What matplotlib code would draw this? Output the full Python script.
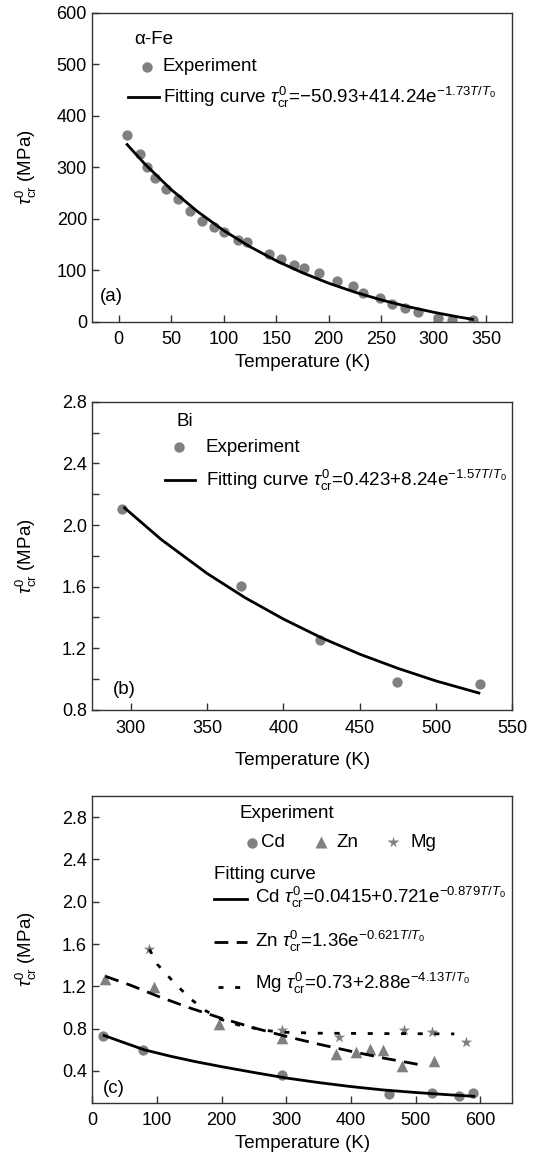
import numpy as np
import matplotlib
matplotlib.use('Agg')
import matplotlib.pyplot as plt
from matplotlib.ticker import MultipleLocator, FormatStrFormatter

plt.rcParams['font.family'] = ['Liberation Sans', 'DejaVu Sans']
plt.rcParams['mathtext.fontset'] = 'custom'
plt.rcParams['mathtext.rm'] = 'Liberation Sans'
plt.rcParams['mathtext.it'] = 'Liberation Sans:italic'
plt.rcParams['mathtext.bf'] = 'Liberation Sans:bold'
plt.rcParams['font.size'] = 13.5

# (a) alpha-Fe
fe_T = [8, 20, 27, 35, 45, 56, 68, 79, 91, 100, 114, 122, 143, 155, 167, 176, 191,
        208, 223, 233, 249, 260, 273, 285, 304, 317, 337]
fe_tau = [362, 326, 300, 280, 257, 238, 214, 196, 183, 174, 159, 154, 131, 122, 110, 105, 95,
          79, 70, 55, 46, 35, 26, 18, 8, 4, 3]
fe_fit_T = [8, 25, 50, 75, 100, 125, 150, 175, 200, 225, 250, 275, 300, 320, 337]
fe_fit_tau = [344, 306, 256.5, 214, 177, 145.6, 118.4, 95, 74.7, 57.3, 42.3, 29.4, 18.3, 10.5, 4.5]

# (b) Bi
bi_T = [294, 372, 424, 474.5, 528.5]
bi_tau = [2.105, 1.605, 1.255, 0.98, 0.966]
bi_fit_T = [296, 320, 350, 375, 400, 425, 450, 475, 500, 528]
bi_fit_tau = [2.111, 1.906, 1.686, 1.528, 1.390, 1.268, 1.162, 1.070, 0.988, 0.910]

# (c) Cd, Zn, Mg
cd_T = [16.5, 78, 294, 459, 525, 567, 589]
cd_tau = [0.73, 0.595, 0.365, 0.183, 0.193, 0.161, 0.19]
zn_T = [20, 95, 196, 293, 377, 408, 429, 449, 479.5, 529]
zn_tau = [1.267, 1.198, 0.843, 0.708, 0.557, 0.576, 0.61, 0.595, 0.45, 0.497]
mg_T = [87, 293.5, 381, 482, 526, 577.5]
mg_tau = [1.553, 0.79, 0.717, 0.79, 0.771, 0.673]

cd_fit_T = [18, 50, 80, 120, 160, 200, 250, 300, 350, 400, 450, 500, 550, 590]
cd_fit_tau = [0.735, 0.665, 0.600, 0.54, 0.487, 0.440, 0.385, 0.333, 0.29, 0.252, 0.220, 0.196, 0.175, 0.160]
zn_fit_T = [20, 60, 100, 150, 200, 250, 300, 350, 400, 450, 510]
zn_fit_tau = [1.295, 1.208, 1.109, 0.997, 0.897, 0.807, 0.726, 0.653, 0.586, 0.522, 0.455]
mg_fit_T = [88, 100, 125, 150, 175, 200, 225, 250, 275, 300, 350, 400, 450, 500, 560]
mg_fit_tau = [1.55, 1.41, 1.245, 1.09, 0.97, 0.885, 0.836, 0.805, 0.778, 0.765, 0.757, 0.755, 0.753, 0.752, 0.75]

GRAY = '#808080'
ylab = r'$\tau^{0}_{\rm cr}$ (MPa)'
ZN_DASH = (0, (5, 3))
MG_DOT = (0, (1.8, 4.2))

fig = plt.figure(figsize=(5.39, 11.58), dpi=100)
ax_a = fig.add_axes([0.1716, 0.7222, 0.7792, 0.2668])
ax_b = fig.add_axes([0.1716, 0.3869, 0.7792, 0.2662])
ax_c = fig.add_axes([0.1716, 0.0478, 0.7792, 0.2648])

for ax in (ax_a, ax_b, ax_c):
    for s in ax.spines.values():
        s.set_color('#333333')
        s.set_linewidth(1.0)
    ax.tick_params(which='both', direction='in', length=5, width=1, color='#333333',
                   top=False, right=False, labelsize=13)
    ax.tick_params(axis='x', pad=7)
    ax.tick_params(axis='y', pad=4)
    ax.set_ylabel(ylab, fontsize=13.5)
    ax.yaxis.set_label_coords(-0.128, 0.5)

# ---- (a) ----
ax = ax_a
ax.scatter(fe_T, fe_tau, s=55, color=GRAY, zorder=2, linewidths=0)
ax.plot(fe_fit_T, fe_fit_tau, color='black', lw=2, zorder=3)
ax.set_xlim(-25, 375)
ax.set_ylim(0, 600)
ax.set_xticks(range(0, 351, 50))
ax.set_yticks(range(0, 601, 100))
ax.set_xlabel('Temperature (K)', labelpad=4)
ax.text(0.100, 0.914, 'α-Fe', transform=ax.transAxes, va='center')
ax.plot([0.13], [0.825], 'o', ms=7.5, color=GRAY, mec='none', transform=ax.transAxes)
ax.text(0.166, 0.825, 'Experiment', transform=ax.transAxes, va='center')
ax.plot([0.084, 0.158], [0.727, 0.727], color='black', lw=2, transform=ax.transAxes)
ax.text(0.168, 0.727, r'Fitting curve $\tau^{0}_{\rm cr}$=−50.93+414.24e$^{-1.73T/T_0}$',
        transform=ax.transAxes, va='center')
ax.text(0.018, 0.081, '(a)', transform=ax.transAxes, va='center')

# ---- (b) ----
ax = ax_b
ax.scatter(bi_T, bi_tau, s=55, color=GRAY, zorder=2, linewidths=0)
ax.plot(bi_fit_T, bi_fit_tau, color='black', lw=2, zorder=3)
ax.set_xlim(275, 550)
ax.set_ylim(0.8, 2.8)
ax.set_xticks(range(300, 551, 50))
ax.yaxis.set_major_locator(MultipleLocator(0.4))
ax.yaxis.set_minor_locator(MultipleLocator(0.2))
ax.yaxis.set_major_formatter(FormatStrFormatter('%.1f'))
ax.set_xlabel('Temperature (K)', labelpad=11)
ax.text(0.199, 0.935, 'Bi', transform=ax.transAxes, va='center')
ax.plot([0.207], [0.852], 'o', ms=7.5, color=GRAY, mec='none', transform=ax.transAxes)
ax.text(0.268, 0.852, 'Experiment', transform=ax.transAxes, va='center')
ax.plot([0.173, 0.245], [0.746, 0.746], color='black', lw=2, transform=ax.transAxes)
ax.text(0.270, 0.746, r'Fitting curve $\tau^{0}_{\rm cr}$=0.423+8.24e$^{-1.57T/T_0}$',
        transform=ax.transAxes, va='center')
ax.text(0.049, 0.065, '(b)', transform=ax.transAxes, va='center')

# ---- (c) ----
ax = ax_c
ax.scatter(cd_T, cd_tau, s=55, marker='o', color=GRAY, zorder=2, linewidths=0)
ax.scatter(zn_T, zn_tau, s=70, marker='^', color=GRAY, zorder=2, linewidths=0)
ax.scatter(mg_T, mg_tau, s=75, marker='*', color=GRAY, zorder=2, linewidths=0)
ax.plot(cd_fit_T, cd_fit_tau, color='black', lw=2, zorder=3)
ax.plot(zn_fit_T, zn_fit_tau, color='black', lw=2, ls=ZN_DASH, zorder=3)
ax.plot(mg_fit_T, mg_fit_tau, color='black', lw=2, ls=MG_DOT, zorder=3)
ax.set_xlim(0, 650)
ax.set_ylim(0.1, 3.0)
ax.set_xticks(range(0, 601, 100))
ax.set_yticks(np.arange(0.4, 2.81, 0.4))
ax.yaxis.set_major_formatter(FormatStrFormatter('%.1f'))
ax.set_xlabel('Temperature (K)', labelpad=4)
ax.text(0.350, 0.942, 'Experiment', transform=ax.transAxes, va='center')
ax.plot([0.380], [0.847], 'o', ms=7.5, color=GRAY, mec='none', transform=ax.transAxes)
ax.text(0.402, 0.847, 'Cd', transform=ax.transAxes, va='center')
ax.plot([0.545], [0.849], '^', ms=8.5, color=GRAY, mec='none', transform=ax.transAxes)
ax.text(0.580, 0.847, 'Zn', transform=ax.transAxes, va='center')
ax.plot([0.7165], [0.849], '*', ms=8.5, color=GRAY, mec='none', transform=ax.transAxes)
ax.text(0.756, 0.847, 'Mg', transform=ax.transAxes, va='center')
ax.text(0.289, 0.745, 'Fitting curve', transform=ax.transAxes, va='center')
ax.plot([0.289, 0.367], [0.664, 0.664], color='black', lw=2, transform=ax.transAxes)
ax.text(0.386, 0.668, r'Cd $\tau^{0}_{\rm cr}$=0.0415+0.721e$^{-0.879T/T_0}$',
        transform=ax.transAxes, va='center')
ax.plot([0.289, 0.369], [0.523, 0.523], color='black', lw=2, ls=ZN_DASH, transform=ax.transAxes)
ax.text(0.386, 0.527, r'Zn $\tau^{0}_{\rm cr}$=1.36e$^{-0.621T/T_0}$',
        transform=ax.transAxes, va='center')
ax.plot([0.300, 0.369], [0.378, 0.378], color='black', lw=2, ls=MG_DOT, transform=ax.transAxes)
ax.text(0.386, 0.388, r'Mg $\tau^{0}_{\rm cr}$=0.73+2.88e$^{-4.13T/T_0}$',
        transform=ax.transAxes, va='center')
ax.text(0.024, 0.047, '(c)', transform=ax.transAxes, va='center')

fig.savefig('out.png', dpi=100)
